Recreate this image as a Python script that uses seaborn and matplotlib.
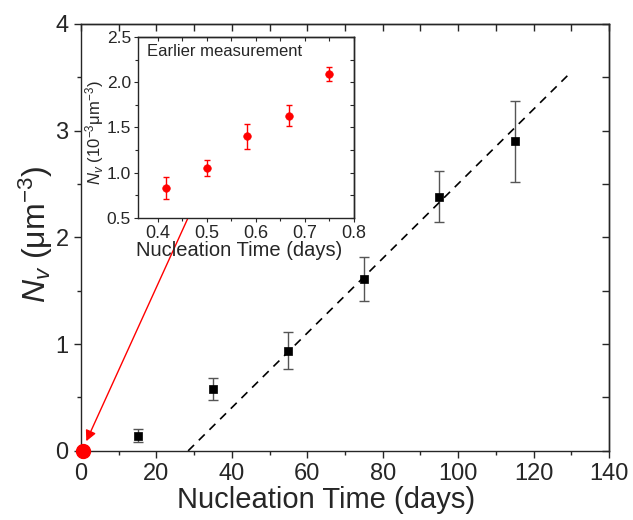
import numpy as np
import pandas as pd
import matplotlib
matplotlib.use("Agg")
import matplotlib.pyplot as plt
import seaborn as sns

# ---------------- data ----------------
# main panel: nucleation density vs time
time_days = [15, 35, 55, 75, 95, 115]
nv_main = [0.14, 0.58, 0.94, 1.61, 2.38, 2.90]
nv_main_err = [0.06, 0.10, 0.17, 0.21, 0.24, 0.38]

# dashed linear fit (end points)
fit_x = [28.4, 130.0]
fit_y = [0.0, 3.55]

# earlier measurement shown at the origin
early_x = [0.6]
early_y = [0.0]

# inset: earlier measurement
inset_time = [0.417, 0.500, 0.583, 0.667, 0.750]
inset_nv = [0.83, 1.05, 1.40, 1.63, 2.09]
inset_err = [0.12, 0.09, 0.14, 0.12, 0.08]

df_main = pd.DataFrame({"t": time_days, "nv": nv_main, "err": nv_main_err})
df_inset = pd.DataFrame({"t": inset_time, "nv": inset_nv, "err": inset_err})
df_fit = pd.DataFrame({"t": fit_x, "nv": fit_y})

# ---------------- style ----------------
sns.set_style("ticks")
plt.rcParams["font.family"] = ["Liberation Sans", "DejaVu Sans"]
plt.rcParams["mathtext.fontset"] = "custom"
plt.rcParams["mathtext.rm"] = "Liberation Sans"
plt.rcParams["mathtext.it"] = "Liberation Sans:italic"
plt.rcParams["axes.linewidth"] = 1.0

fig = plt.figure(figsize=(6.33, 5.2), dpi=100)
ax = fig.add_axes([0.128, 0.133, 0.834, 0.821])

# error bars + markers (main)
ax.errorbar(df_main["t"], df_main["nv"], yerr=df_main["err"], fmt="none",
            ecolor="#555555", elinewidth=1.0, capsize=3.5, capthick=1.0, zorder=2)
sns.scatterplot(data=df_main, x="t", y="nv", marker="s", s=40, color="black",
                edgecolor="black", ax=ax, zorder=3, legend=False)
sns.lineplot(data=df_fit, x="t", y="nv", color="black", lw=1.2, ax=ax,
             linestyle=(0, (5, 4)), zorder=2)
ax.plot(early_x, early_y, "o", color="red", ms=10, clip_on=False, zorder=5)

ax.set_xlim(0, 140)
ax.set_ylim(0, 4)
ax.set_xticks(np.arange(0, 141, 20))
ax.set_xticks(np.arange(10, 140, 20), minor=True)
ax.set_yticks([0, 1, 2, 3, 4])
ax.set_yticks([0.5, 1.5, 2.5, 3.5], minor=True)
ax.tick_params(which="both", direction="out", top=False, right=False,
               labelsize=17, width=1.0, pad=4)
ax.tick_params(which="major", length=5)
ax.tick_params(which="minor", length=3)

# mirrored inward ticks on top / right
sec_x = ax.secondary_xaxis("top")
sec_x.set_xticks(np.arange(0, 141, 10))
sec_x.tick_params(direction="in", length=5, width=1.0, labeltop=False)
sec_y = ax.secondary_yaxis("right")
sec_y.set_yticks(np.arange(0, 4.01, 0.5))
sec_y.tick_params(direction="in", length=5, width=1.0, labelright=False)

ax.set_xlabel("Nucleation Time (days)", fontsize=21)
ax.set_ylabel("$N_v$ (μm$^{-3}$)", fontsize=23)
ax.xaxis.set_label_coords(0.464, -0.083)
ax.yaxis.set_label_coords(-0.05, 0.506)

# red arrow from inset to origin point
ax.annotate("", xy=(1.4, 0.09), xytext=(28.6, 2.2),
            arrowprops=dict(arrowstyle="-|>", color="red", lw=1.0,
                            mutation_scale=16, shrinkA=0, shrinkB=0))

# ---------------- inset ----------------
axin = fig.add_axes([0.218, 0.581, 0.341, 0.348])
axin.errorbar(df_inset["t"], df_inset["nv"], yerr=df_inset["err"], fmt="none",
              ecolor="red", elinewidth=1.0, capsize=2, capthick=1.0, zorder=2)
sns.scatterplot(data=df_inset, x="t", y="nv", marker="o", s=30, color="red",
                edgecolor="red", ax=axin, zorder=3, legend=False)
axin.set_xlim(0.36, 0.8)
axin.set_ylim(0.5, 2.5)
axin.set_xticks([0.4, 0.5, 0.6, 0.7, 0.8])
axin.set_xticks([0.45, 0.55, 0.65, 0.75], minor=True)
axin.set_yticks([0.5, 1.0, 1.5, 2.0, 2.5])
axin.set_yticks([0.75, 1.25, 1.75, 2.25], minor=True)
axin.tick_params(which="both", direction="out", labelsize=13, width=0.8, pad=2)
axin.tick_params(axis="y", labelsize=12.5)
axin.tick_params(which="major", length=3)
axin.tick_params(which="minor", length=2)
sin_x = axin.secondary_xaxis("top")
sin_x.set_xticks(np.arange(0.4, 0.81, 0.05))
sin_x.tick_params(direction="in", length=3, width=0.8, labeltop=False)
sin_y = axin.secondary_yaxis("right")
sin_y.set_yticks(np.arange(0.5, 2.51, 0.25))
sin_y.tick_params(direction="in", length=3, width=0.8, labelright=False)
axin.set_xlabel("Nucleation Time (days)", fontsize=14.5, labelpad=0)
axin.xaxis.set_label_coords(0.47, -0.13)
axin.set_ylabel("$N_v$ (10$^{-3}$μm$^{-3}$)", fontsize=12)
axin.yaxis.set_label_coords(-0.15, 0.47)
axin.text(0.04, 0.96, "Earlier measurement", transform=axin.transAxes,
          fontsize=12, va="top", ha="left")

fig.savefig("out.png", dpi=100)
